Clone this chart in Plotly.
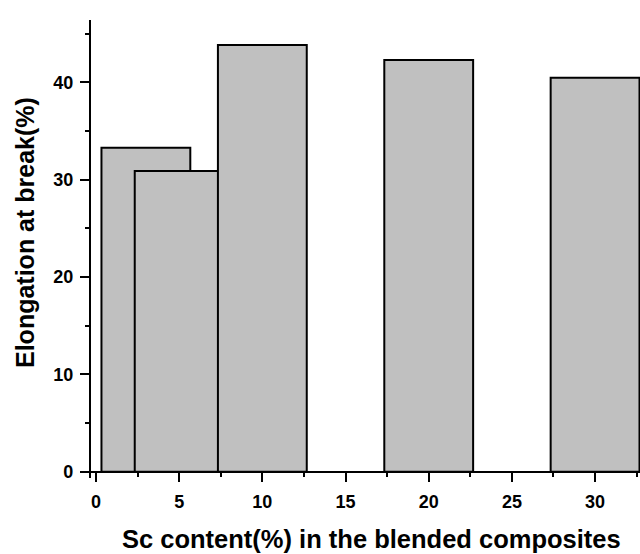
import plotly.graph_objects as go

# Data
sc_content = [3, 5, 10, 20, 30]
elongation = [33.28, 30.89, 43.83, 42.29, 40.47]
bar_width = [5.34, 5.34, 5.34, 5.34, 5.34]
x_ticks = [0, 5, 10, 15, 20, 25, 30]
y_ticks = [0, 10, 20, 30, 40]

FONT = "Liberation Sans, Arial, sans-serif"

W, H = 640, 554
ml, mr, mt, mb = 81, 0, 20, 76
xr = [-0.9, 32.7]
yr = [-0.647, 46.40]

fig = go.Figure()
fig.add_trace(go.Bar(
    x=sc_content, y=elongation, width=bar_width,
    marker=dict(color="#c0c0c0", line=dict(color="black", width=2)),
    showlegend=False,
))

pw = W - ml - mr
ph = H - mt - mb
xpos = (0 - yr[0]) / (yr[1] - yr[0])
ypos = (-0.36 - xr[0]) / (xr[1] - xr[0])

fig.update_layout(
    width=W, height=H,
    margin=dict(l=ml, r=mr, t=mt, b=mb, pad=0),
    paper_bgcolor="white", plot_bgcolor="white",
    font=dict(family=FONT, color="black"),
    xaxis=dict(
        range=xr, anchor="free", position=xpos,
        showline=True, linecolor="black", linewidth=2,
        showgrid=False, zeroline=False,
        tickmode="array", tickvals=x_ticks, ticktext=[str(v) for v in x_ticks],
        ticks="outside", ticklen=9, tickwidth=2, tickcolor="black",
        tickfont=dict(family=FONT, size=18, color="black", weight="bold"),
        ticklabelstandoff=5,
        minor=dict(tickvals=[2.5, 7.5, 12.5, 17.5, 22.5, 27.5, 32.5], ticks="outside",
                   ticklen=4, tickwidth=2, tickcolor="black", showgrid=False),
        automargin=False,
    ),
    yaxis=dict(
        range=yr, anchor="free", position=ypos,
        showline=True, linecolor="black", linewidth=2,
        showgrid=False, zeroline=False,
        tickmode="array", tickvals=y_ticks, ticktext=[str(v) for v in y_ticks],
        ticks="outside", ticklen=9, tickwidth=2, tickcolor="black",
        tickfont=dict(family=FONT, size=18, color="black", weight="bold"),
        ticklabelstandoff=3,
        minor=dict(tickvals=[5, 15, 25, 35, 45], ticks="outside",
                   ticklen=4, tickwidth=2, tickcolor="black", showgrid=False),
        automargin=False,
    ),
    annotations=[
        dict(text="Sc content(%) in the blended composites", xref="paper", yref="paper",
             x=(371 - ml) / pw, y=(H - mb - 539) / ph, xanchor="center", yanchor="middle",
             showarrow=False, font=dict(family=FONT, size=25.5, color="black", weight="bold")),
        dict(text="Elongation at break(%)", xref="paper", yref="paper",
             x=(25 - ml) / pw, y=(H - mb - 233) / ph, xanchor="center", yanchor="middle",
             textangle=-90, showarrow=False,
             font=dict(family=FONT, size=25, color="black", weight="bold")),
    ],
)

fig.write_html("out.html", config={"displayModeBar": False},
               post_script="document.body.style.margin='0';")
